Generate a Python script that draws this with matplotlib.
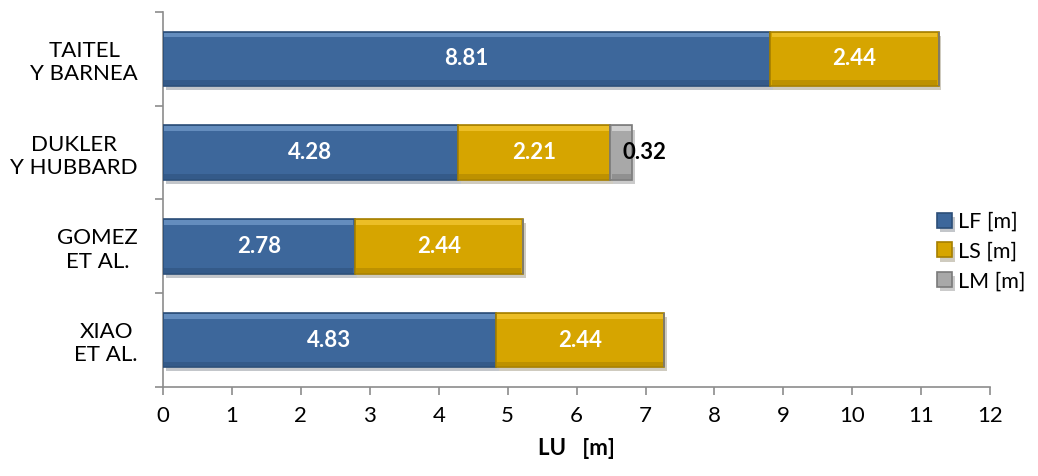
import matplotlib
matplotlib.use("Agg")
import matplotlib.pyplot as plt
import matplotlib.patheffects as pe
import numpy as np

plt.rcParams['font.family'] = ['Lato', 'DejaVu Sans']

categories = ["TAITEL\nY BARNEA", "DUKLER\nY HUBBARD", "GOMEZ\nET AL.", "XIAO\nET AL."]
LF = [8.81, 4.28, 2.78, 4.83]
LS = [2.44, 2.21, 2.44, 2.44]
LM = [0.0, 0.32, 0.0, 0.0]
series_names = ["LF [m]", "LS [m]", "LM [m]"]
colors = ["#3D679B", "#D6A500", "#A8A8A8"]
edges = ["#2C4E78", "#A57F00", "#7A7A7A"]
lights = ["#6F97C8", "#F2C530", "#D9D9D9"]
xticks = list(range(0, 13))

fig = plt.figure(figsize=(10.38, 4.76), dpi=100)
ax = fig.add_axes([0.157, 0.187, 0.797, 0.788])

y = np.arange(len(categories))
h = 0.58
left = np.zeros(len(categories))
shadow = [pe.SimplePatchShadow(offset=(2, -3), alpha=0.25), pe.Normal()]
handles = []
for vals, name, c, ec, lc in zip([LF, LS, LM], series_names, colors, edges, lights):
    vals = np.array(vals)
    bars = ax.barh(y, vals, left=left, height=h, color=c, edgecolor=ec,
                   linewidth=1.2, label=name, zorder=3)
    for b in bars:
        b.set_path_effects(shadow)
    handles.append(bars)
    # bevel highlight (top) and darker band (bottom)
    mask = vals > 0
    ax.barh(y[mask] - h / 2 + 0.035, vals[mask] - 0.04, left=left[mask] + 0.02,
            height=0.05, color=lc, linewidth=0, zorder=4, alpha=0.8)
    ax.barh(y[mask] + h / 2 - 0.035, vals[mask] - 0.04, left=left[mask] + 0.02,
            height=0.05, color=ec, linewidth=0, zorder=4, alpha=0.5)
    for i, v in enumerate(vals):
        if v <= 0:
            continue
        if name.startswith("LM"):
            ax.text(left[i] + v + 0.17, y[i], f"{v:.2f}", ha="center", va="center",
                    color="black", fontsize=16, fontweight="bold", zorder=5)
        else:
            ax.text(left[i] + v / 2, y[i], f"{v:.2f}", ha="center", va="center",
                    color="white", fontsize=16, fontweight="bold", zorder=5)
    left = left + vals

ax.set_ylim(3.5, -0.5)
ax.set_xlim(0, 12)
ax.set_xticks(xticks)
ax.set_yticks(y)
ax.set_yticklabels(categories, multialignment="center", fontsize=16)
ax.set_yticks(np.arange(-0.5, 3.6, 1.0), minor=True)
ax.tick_params(axis="y", which="major", length=0, pad=18)
ax.tick_params(axis="y", which="minor", length=6, color="#8C8C8C", width=1.2)
ax.tick_params(axis="x", length=6, color="#8C8C8C", width=1.2, labelsize=16, pad=8)
for s in ["top", "right"]:
    ax.spines[s].set_visible(False)
for s in ["left", "bottom"]:
    ax.spines[s].set_color("#8C8C8C")
    ax.spines[s].set_linewidth(1.2)
ax.set_xlabel("LU   [m]", fontsize=16, fontweight="bold", labelpad=8)

leg = ax.legend(handles=handles, labels=series_names, loc="upper left",
                bbox_to_anchor=(0.925, 0.49), frameon=False, fontsize=15.5,
                handlelength=0.7, handleheight=0.7, handletextpad=0.3,
                labelspacing=0.45, borderaxespad=0)

fig.savefig("out.png", dpi=100)
